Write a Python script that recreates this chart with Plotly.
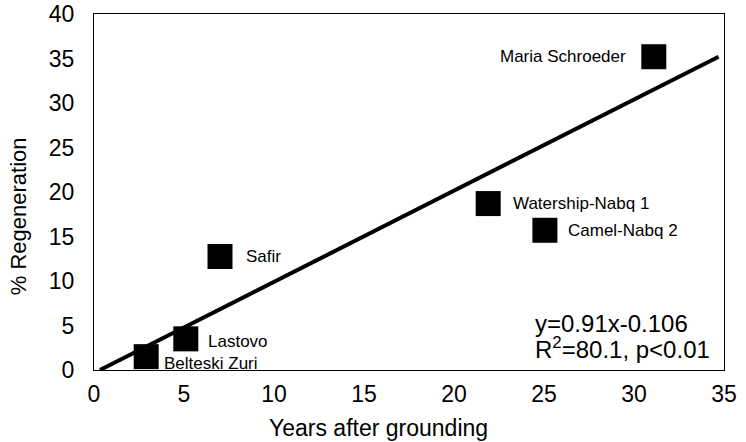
import plotly.graph_objects as go

# Data
ships = ["Belteski Zuri", "Lastovo", "Safir", "Watership-Nabq 1", "Camel-Nabq 2", "Maria Schroeder"]
years = [2.9, 5.1, 7.0, 21.9, 25.05, 31.1]
regen = [1.5, 3.5, 12.75, 18.7, 15.7, 35.2]

# regression line as drawn
line_x = [0.33, 34.7]
line_y = [0.0, 35.2]

x_ticks = [0, 5, 10, 15, 20, 25, 30, 35]
y_ticks = [0, 5, 10, 15, 20, 25, 30, 35, 40]

equation = "y=0.91x-0.106"
stats = "R<sup>2</sup>=80.1, p<0.01"

# label offsets (px): (xshift, yshift, xanchor)
label_style = {
    "Belteski Zuri": (16, -7, "left"),
    "Lastovo": (20, -3, "left"),
    "Safir": (24, 0, "left"),
    "Watership-Nabq 1": (23, 0, "left"),
    "Camel-Nabq 2": (21, 0, "left"),
    "Maria Schroeder": (-26, 0, "right"),
}

FONT = "Liberation Sans, Arial, sans-serif"

fig = go.Figure()
fig.add_trace(go.Scatter(x=line_x, y=line_y, mode="lines",
                         line=dict(color="black", width=4), hoverinfo="skip"))
fig.add_trace(go.Scatter(x=years, y=regen, mode="markers",
                         marker=dict(symbol="square", size=25, color="black",
                                     line=dict(width=0))))

for name, x, y in zip(ships, years, regen):
    xs, ys, xa = label_style[name]
    fig.add_annotation(x=x, y=y, xref="x", yref="y", text=name, showarrow=False,
                       xanchor=xa, yanchor="middle", xshift=xs, yshift=ys,
                       font=dict(family=FONT, size=17, color="black"))

fig.add_annotation(x=0.697, y=0.131, xref="paper", yref="paper", text=equation,
                   showarrow=False, xanchor="left", yanchor="middle",
                   font=dict(family=FONT, size=24, color="black"))
fig.add_annotation(x=0.697, y=0.061, xref="paper", yref="paper", text=stats,
                   showarrow=False, xanchor="left", yanchor="middle",
                   font=dict(family=FONT, size=24, color="black"))

# axis titles
fig.add_annotation(x=0.452, y=-0.163, xref="paper", yref="paper", text="Years after grounding",
                   showarrow=False, xanchor="center", yanchor="middle",
                   font=dict(family=FONT, size=23, color="black"))
fig.add_annotation(x=-0.12, y=0.433, xref="paper", yref="paper", text="% Regeneration",
                   showarrow=False, xanchor="center", yanchor="middle", textangle=-90,
                   font=dict(family=FONT, size=22, color="black"))

fig.update_xaxes(range=[0, 35], tickvals=x_ticks, ticktext=[str(v) for v in x_ticks],
                 showgrid=False, zeroline=False, showline=True, mirror=True,
                 linecolor="black", linewidth=1, ticks="", ticklabelstandoff=3,
                 automargin=False,
                 tickfont=dict(family=FONT, size=23, color="black"))
fig.update_yaxes(range=[0, 40], tickvals=y_ticks, ticktext=[str(v) for v in y_ticks],
                 showgrid=False, zeroline=False, showline=True, mirror=True,
                 linecolor="black", linewidth=1, ticks="", ticklabelstandoff=14,
                 automargin=False,
                 tickfont=dict(family=FONT, size=23, color="black"))

fig.update_layout(width=746, height=442, showlegend=False,
                  margin=dict(l=94, r=22, t=14, b=72, autoexpand=False),
                  plot_bgcolor="white", paper_bgcolor="white")

fig.write_html("out.html", config={"displayModeBar": False},
               post_script="document.body.style.margin='0';")
